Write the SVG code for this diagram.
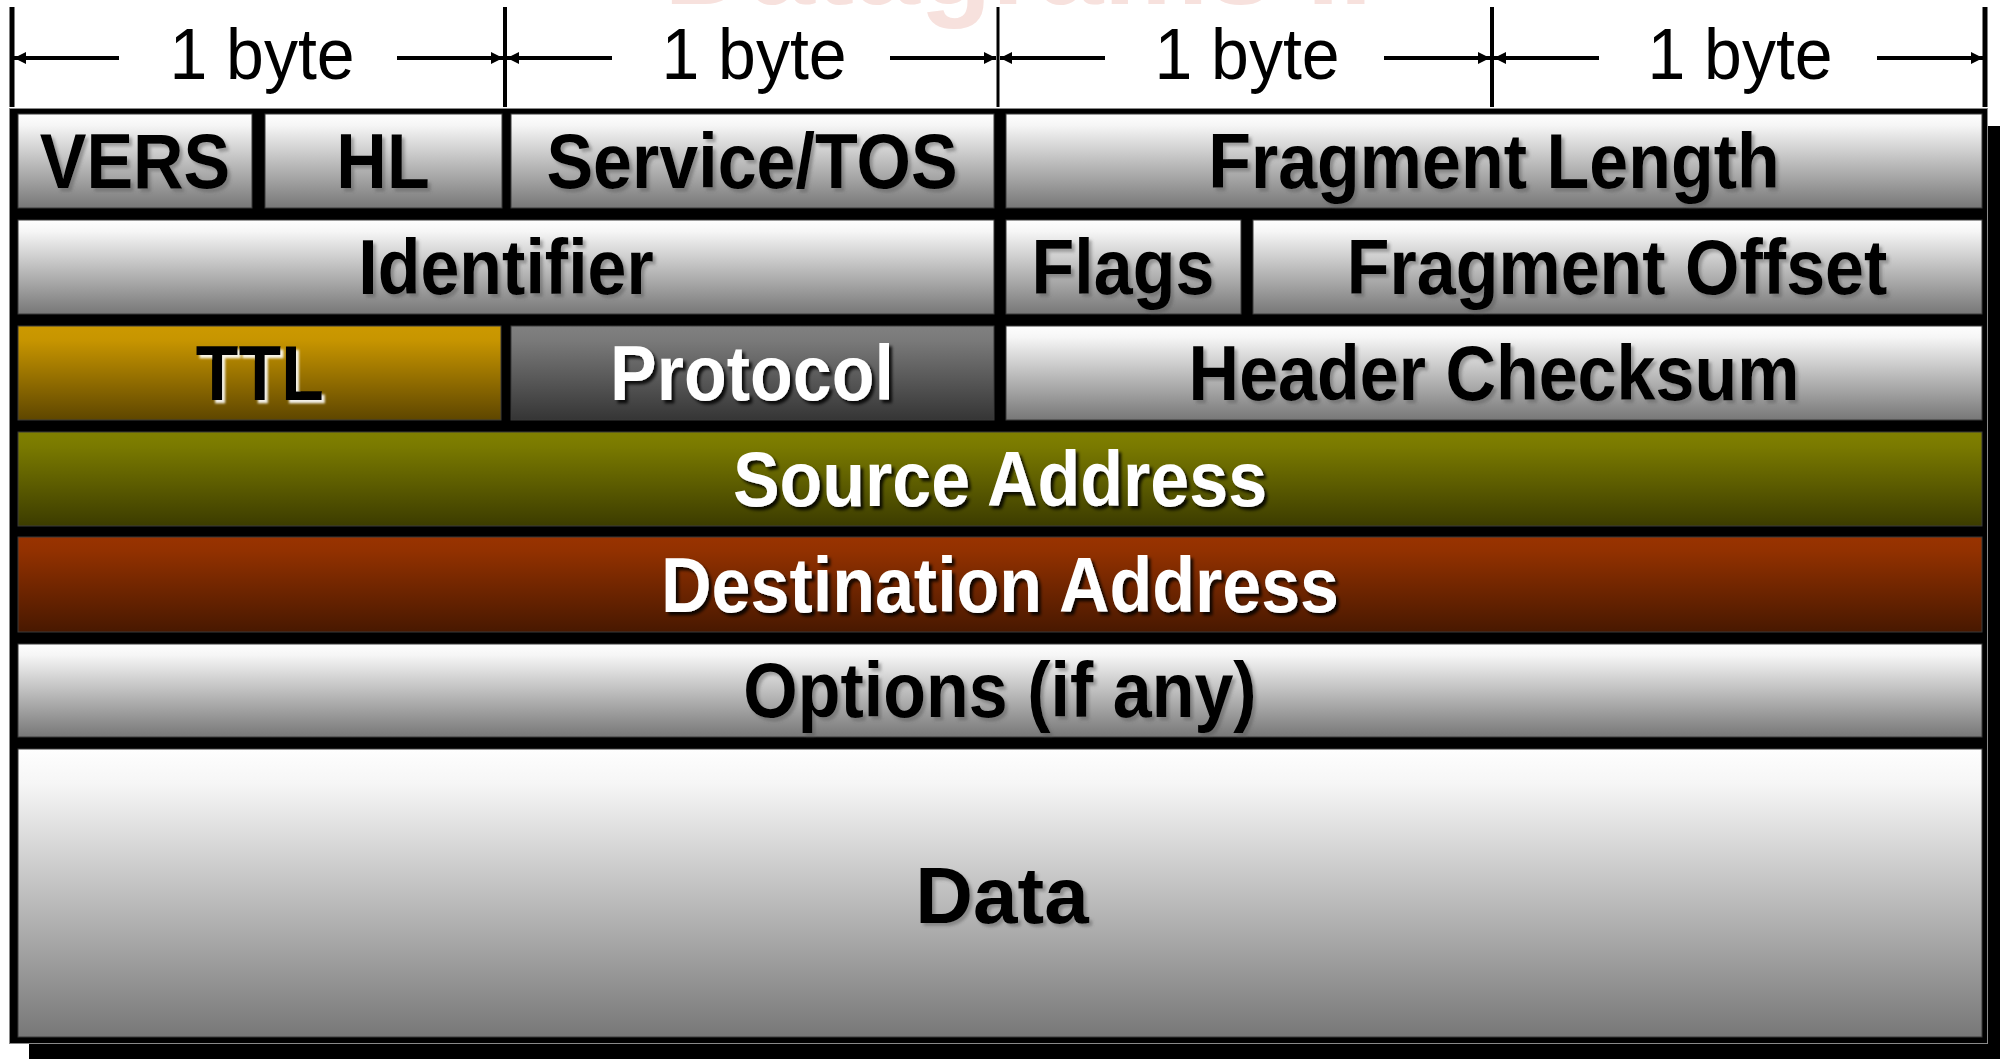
<svg xmlns="http://www.w3.org/2000/svg" width="2000" height="1059" viewBox="0 0 2000 1059">
  <defs>
    <linearGradient id="gGray" x1="0" y1="0" x2="0" y2="1">
      <stop offset="0" stop-color="#fefefe"/>
      <stop offset="0.12" stop-color="#f6f6f6"/>
      <stop offset="1" stop-color="#777777"/>
    </linearGradient>
    <linearGradient id="gGold" x1="0" y1="0" x2="0" y2="1">
      <stop offset="0" stop-color="#cc9900"/>
      <stop offset="0.15" stop-color="#c79500"/>
      <stop offset="1" stop-color="#5e4600"/>
    </linearGradient>
    <linearGradient id="gSlate" x1="0" y1="0" x2="0" y2="1">
      <stop offset="0" stop-color="#808080"/>
      <stop offset="0.15" stop-color="#7a7a7a"/>
      <stop offset="1" stop-color="#353535"/>
    </linearGradient>
    <linearGradient id="gOlive" x1="0" y1="0" x2="0" y2="1">
      <stop offset="0" stop-color="#808000"/>
      <stop offset="0.15" stop-color="#7a7a00"/>
      <stop offset="1" stop-color="#3c3c00"/>
    </linearGradient>
    <linearGradient id="gRust" x1="0" y1="0" x2="0" y2="1">
      <stop offset="0" stop-color="#993300"/>
      <stop offset="0.15" stop-color="#923100"/>
      <stop offset="1" stop-color="#481800"/>
    </linearGradient>
    <filter id="shLight" x="-5%" y="-20%" width="110%" height="140%">
      <feDropShadow dx="3" dy="3" stdDeviation="1.5" flood-color="#555555" flood-opacity="0.45"/>
    </filter>
    <filter id="shWhite" x="-5%" y="-20%" width="110%" height="140%">
      <feDropShadow dx="3" dy="3" stdDeviation="1" flood-color="#ffffff" flood-opacity="0.9"/>
    </filter>
    <filter id="shDark" x="-5%" y="-20%" width="110%" height="140%">
      <feDropShadow dx="3" dy="3" stdDeviation="1.5" flood-color="#000000" flood-opacity="0.85"/>
    </filter>
    <marker id="tip" viewBox="0 0 12 12" refX="12" refY="6" markerWidth="12" markerHeight="12" markerUnits="userSpaceOnUse" orient="auto">
      <path d="M0,0 L12,6 L0,12 Z" fill="#000"/>
    </marker>
  </defs>
  <style>
    .fld { font-family: "Liberation Sans", Arial, sans-serif; font-weight: bold; font-size: 70px; text-anchor: middle; }
    .blk { fill: #000; }
    .wht { fill: #fff; }
    .box { stroke: #3a3a3a; stroke-width: 1; }
    .dim { font-family: "Liberation Sans", Arial, sans-serif; font-size: 68px; text-anchor: middle; fill: #000; }
    .tick { stroke: #000; stroke-width: 5; }
    .arr { stroke: #000; stroke-width: 4; fill: none; marker-end: url(#tip); }
    .mark { font-family: "Liberation Sans", Arial, sans-serif; font-weight: bold; font-size: 118px; fill: #f7e1dd; }
  </style>

  <rect width="2000" height="1059" fill="#ffffff"/>

  <!-- faded title, mostly above the top edge -->
  <text class="mark" x="664" y="4">Datagrams IP</text>

  <!-- byte ruler -->
  <g id="ruler">
    <line class="tick" x1="12" y1="7" x2="12" y2="107"/>
    <line class="tick" x1="505" y1="7" x2="505" y2="107" style="stroke-width:4"/>
    <line class="tick" x1="998" y1="7" x2="998" y2="107" style="stroke-width:3"/>
    <line class="tick" x1="1492" y1="7" x2="1492" y2="107" style="stroke-width:4"/>
    <line class="tick" x1="1985" y1="7" x2="1985" y2="107"/>
  </g>

  <g id="connectors">
    <line class="arr" x1="119" y1="58" x2="14" y2="58"/>
    <line class="arr" x1="397" y1="58" x2="503" y2="58"/>
    <line class="arr" x1="612" y1="58" x2="507" y2="58"/>
    <line class="arr" x1="890" y1="58" x2="996" y2="58"/>
    <line class="arr" x1="1105" y1="58" x2="1000" y2="58"/>
    <line class="arr" x1="1384" y1="58" x2="1490" y2="58"/>
    <line class="arr" x1="1599" y1="58" x2="1494" y2="58"/>
    <line class="arr" x1="1877" y1="58" x2="1983" y2="58"/>
  </g>

  <g id="byte-labels">
    <g transform="translate(262,79) scale(1,1.06)"><text class="dim">1 byte</text></g>
    <g transform="translate(754,79) scale(1,1.06)"><text class="dim">1 byte</text></g>
    <g transform="translate(1247,79) scale(1,1.06)"><text class="dim">1 byte</text></g>
    <g transform="translate(1740,79) scale(1,1.06)"><text class="dim">1 byte</text></g>
  </g>

  <!-- header frame with drop shadow -->
  <g id="frame">
    <rect x="29" y="126" width="1980" height="940" fill="#000"/>
    <rect x="9.5" y="108.5" width="1978" height="935" fill="#000" stroke="#8a8a8a" stroke-width="1"/>
  </g>

  <!-- row 1 -->
  <g id="vers">
    <rect class="box" x="18" y="114" width="234" height="94" fill="url(#gGray)"/>
    <g transform="translate(135,188) scale(1,1.1)"><text class="fld blk" filter="url(#shLight)">VERS</text></g>
  </g>
  <g id="hl">
    <rect class="box" x="265" y="114" width="237" height="94" fill="url(#gGray)"/>
    <g transform="translate(383,188) scale(1,1.1)"><text class="fld blk" filter="url(#shLight)">HL</text></g>
  </g>
  <g id="service">
    <rect class="box" x="511" y="114" width="483" height="94" fill="url(#gGray)"/>
    <g transform="translate(752,188) scale(1,1.1)"><text class="fld blk" filter="url(#shLight)">Service/TOS</text></g>
  </g>
  <g id="fragment-length">
    <rect class="box" x="1006" y="114" width="976" height="94" fill="url(#gGray)"/>
    <g transform="translate(1494,188) scale(1,1.1)"><text class="fld blk" filter="url(#shLight)">Fragment Length</text></g>
  </g>

  <!-- row 2 -->
  <g id="identifier">
    <rect class="box" x="18" y="220" width="976" height="94" fill="url(#gGray)"/>
    <g transform="translate(506,294) scale(1,1.1)"><text class="fld blk" filter="url(#shLight)">Identifier</text></g>
  </g>
  <g id="flags">
    <rect class="box" x="1006" y="220" width="235" height="94" fill="url(#gGray)"/>
    <g transform="translate(1123,294) scale(1,1.1)"><text class="fld blk" filter="url(#shLight)">Flags</text></g>
  </g>
  <g id="fragment-offset">
    <rect class="box" x="1253" y="220" width="729" height="94" fill="url(#gGray)"/>
    <g transform="translate(1617,294) scale(1,1.1)"><text class="fld blk" filter="url(#shLight)">Fragment Offset</text></g>
  </g>

  <!-- row 3 -->
  <g id="ttl">
    <rect class="box" x="18" y="326" width="483" height="94" fill="url(#gGold)"/>
    <g transform="translate(260,400) scale(1,1.1)"><text class="fld blk" filter="url(#shWhite)">TTL</text></g>
  </g>
  <g id="protocol">
    <rect class="box" x="511" y="326" width="483" height="94" fill="url(#gSlate)"/>
    <g transform="translate(752,400) scale(1,1.1)"><text class="fld wht" filter="url(#shDark)">Protocol</text></g>
  </g>
  <g id="header-checksum">
    <rect class="box" x="1006" y="326" width="976" height="94" fill="url(#gGray)"/>
    <g transform="translate(1494,400) scale(1,1.1)"><text class="fld blk" filter="url(#shLight)">Header Checksum</text></g>
  </g>

  <!-- rows 4 to 7 -->
  <g id="source-address">
    <rect class="box" x="18" y="432" width="1964" height="94" fill="url(#gOlive)"/>
    <g transform="translate(1000,506) scale(1,1.1)"><text class="fld wht" filter="url(#shDark)">Source Address</text></g>
  </g>
  <g id="destination-address">
    <rect class="box" x="18" y="537" width="1964" height="95" fill="url(#gRust)"/>
    <g transform="translate(1000,612) scale(1,1.1)"><text class="fld wht" filter="url(#shDark)">Destination Address</text></g>
  </g>
  <g id="options">
    <rect class="box" x="18" y="644" width="1964" height="93" fill="url(#gGray)"/>
    <g transform="translate(1000,717) scale(1,1.1)"><text class="fld blk" filter="url(#shLight)">Options (if any)</text></g>
  </g>
  <g id="data">
    <rect class="box" x="18" y="749" width="1964" height="288" fill="url(#gGray)"/>
    <text class="fld blk" x="1002" y="923" style="font-size:80px" filter="url(#shLight)">Data</text>
  </g>
</svg>
